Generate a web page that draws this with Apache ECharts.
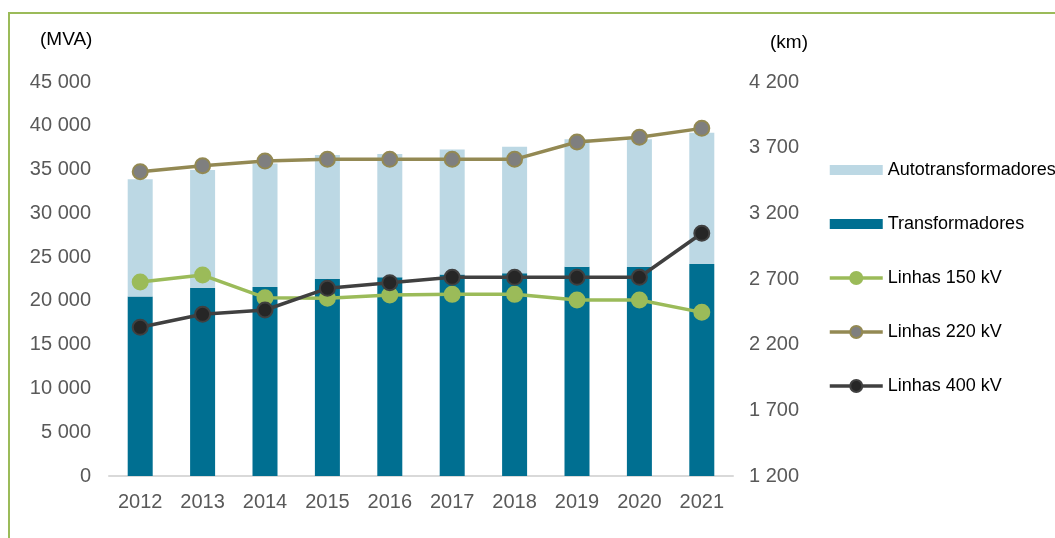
<!DOCTYPE html>
<html>
<head>
<meta charset="utf-8">
<script src="https://cdn.jsdelivr.net/npm/echarts@6/dist/echarts.min.js"></script>
<style>
  html, body { margin: 0; padding: 0; background: #fff; }
  #main { width: 1055px; height: 538px; }
</style>
</head>
<body>
<div id="main"></div>
<script>
var years = ['2012', '2013', '2014', '2015', '2016', '2017', '2018', '2019', '2020', '2021'];

// MVA (left axis)
var transformadores = [20500, 21500, 21600, 22500, 22700, 23000, 23150, 23900, 23900, 24200];
var autotransformadores = [13400, 13450, 14100, 14160, 14070, 14300, 14450, 14550, 14550, 15000];

// km (right axis)
var linhas150 = [2677, 2730, 2558, 2553, 2578, 2583, 2583, 2540, 2540, 2446];
var linhas220 = [3517, 3563, 3598, 3611, 3611, 3611, 3611, 3743, 3779, 3847];
var linhas400 = [2332, 2431, 2464, 2629, 2672, 2713, 2713, 2713, 2713, 3048];

var chart = echarts.init(document.getElementById('main'), null, { renderer: 'canvas' });

function spaced(v) {
  return String(v).replace(/\B(?=(\d{3})+(?!\d))/g, ' ');
}

var font = 'Liberation Sans, Arial, sans-serif';
var barIcon = 'path://M0,0h53v10h-53z';

function lineSeries(name, data, lineColor, fill, border) {
  return {
    name: name,
    type: 'line',
    yAxisIndex: 1,
    data: data,
    symbol: 'circle',
    symbolSize: 15,
    lineStyle: { color: lineColor, width: 3.5 },
    itemStyle: { color: fill, borderColor: border, borderWidth: 2 },
    z: 3
  };
}

var option = {
  animation: false,
  textStyle: { fontFamily: font },
  graphic: [{
    type: 'rect',
    shape: { x: 9, y: 13, width: 1200, height: 700 },
    style: { fill: 'none', stroke: '#9bbb59', lineWidth: 2 },
    silent: true
  }, {
    type: 'text', left: 40, top: 30,
    style: { text: '(MVA)', font: '19px ' + font, fill: '#000' }
  }, {
    type: 'text', left: 770, top: 33,
    style: { text: '(km)', font: '19px ' + font, fill: '#000' }
  }],
  grid: { left: 109, right: 322, top: 82, bottom: 62 },
  legend: {
    orient: 'vertical',
    left: 823,
    top: 156,
    itemWidth: 53,
    itemHeight: 15,
    itemGap: 36,
    lineStyle: { width: 3.5 },
    textStyle: { fontSize: 18, color: '#000', fontFamily: font },
    data: [
      { name: 'Autotransformadores', icon: barIcon },
      { name: 'Transformadores', icon: barIcon },
      'Linhas 150 kV', 'Linhas 220 kV', 'Linhas 400 kV'
    ]
  },
  xAxis: {
    type: 'category',
    data: years,
    axisLine: { lineStyle: { color: '#d9d9d9', width: 2 } },
    axisTick: { show: false },
    axisLabel: { color: '#595959', fontSize: 20, margin: 16, fontFamily: font }
  },
  yAxis: [{
    type: 'value',
    min: 0, max: 45000, interval: 5000,
    splitLine: { show: false },
    axisLine: { show: false },
    axisTick: { show: false },
    axisLabel: { color: '#595959', fontSize: 20, margin: 18, fontFamily: font, formatter: spaced }
  }, {
    type: 'value',
    min: 1200, max: 4200, interval: 500,
    splitLine: { show: false },
    axisLine: { show: false },
    axisTick: { show: false },
    axisLabel: { color: '#595959', fontSize: 20, margin: 16, fontFamily: font, formatter: spaced }
  }],
  series: [{
    name: 'Transformadores',
    type: 'bar',
    stack: 'mva',
    data: transformadores,
    barWidth: 25,
    itemStyle: { color: '#006f91' },
    z: 2
  }, {
    name: 'Autotransformadores',
    type: 'bar',
    stack: 'mva',
    data: autotransformadores,
    barWidth: 25,
    itemStyle: { color: '#bcd8e4' },
    z: 2
  },
    lineSeries('Linhas 150 kV', linhas150, '#9bbb59', '#9bbb59', '#9bbb59'),
    lineSeries('Linhas 220 kV', linhas220, '#938953', '#7f7f7f', '#938953'),
    lineSeries('Linhas 400 kV', linhas400, '#404040', '#262626', '#404040')
  ]
};

chart.setOption(option);
</script>
</body>
</html>
